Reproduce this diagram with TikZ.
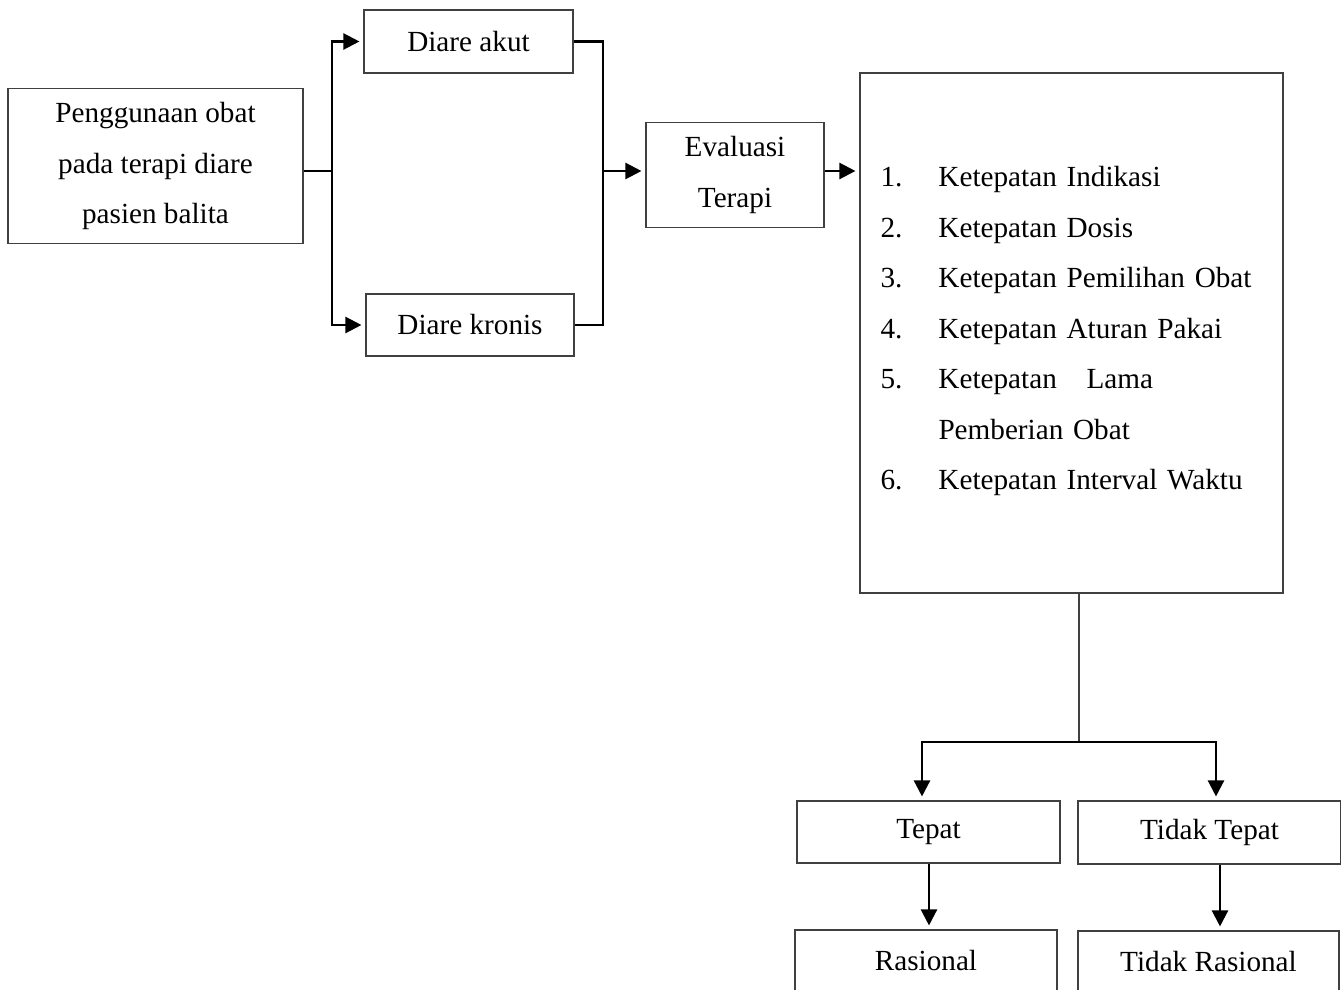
\documentclass[tikz,border=0pt]{standalone}
\usepackage{fontspec}
\setmainfont{Liberation Serif}
\usetikzlibrary{arrows.meta}
\tikzset{
  box/.style={draw=black!75, line width=0.55pt, inner sep=0pt, align=center,
    font=\fontsize{14.6}{25.25}\selectfont},
  conn/.style={line width=1.15pt},
  arr/.style={conn, -{Triangle[length=8pt,width=8pt]}, shorten >=2pt},
}

\begin{document}
\begin{tikzpicture}[x=0.5pt,y=-0.5pt]
  \useasboundingbox (0,0) rectangle (1341,990);
  % draw boxes
  \node[box, minimum width=147.5pt, minimum height=77.5pt] (obat) at (155.5,166)
    {Penggunaan obat\\pada terapi diare\\pasien balita};
  \node[box, minimum width=104.5pt, minimum height=31.5pt] (akut) at (468.5,41.5) {Diare akut};
  \node[box, minimum width=104pt, minimum height=31pt] (kronis) at (470,325) {Diare kronis};
  \node[box, minimum width=89pt, minimum height=52.5pt] (evaluasi) at (735,175) {Evaluasi\\Terapi};
  \node[box, minimum width=211.5pt, minimum height=260pt, text width=191pt, align=left] (kriteria) at (1071.5,333) {%
    \makebox[29pt][l]{1.}Ketepatan Indikasi\\
    \makebox[29pt][l]{2.}Ketepatan Dosis\\
    \makebox[29pt][l]{3.}Ketepatan Pemilihan Obat\\
    \makebox[29pt][l]{4.}Ketepatan Aturan Pakai\\
    \makebox[29pt][l]{5.}Ketepatan\hspace{10pt} Lama\\
    \hspace*{29pt}Pemberian Obat\\
    \makebox[29pt][l]{6.}Ketepatan Interval Waktu\\[-20.5pt]\mbox{}};
  \node[box, minimum width=131.5pt, minimum height=31pt] (tepat) at (928.5,832) {Tepat};
  \node[box, minimum width=131.5pt, minimum height=31.5pt] (tidaktepat) at (1209.5,832.5) {Tidak Tepat};
  \node[box, minimum width=131pt, minimum height=31pt] (rasional) at (926,961) {Rasional};
  \node[box, minimum width=130.5pt, minimum height=31pt] (tidakrasional) at (1208.5,962) {Tidak Rasional};

  % draw connectors
  \coordinate (pisah) at (332,171);
  \coordinate (gabung) at (603,171);
  \coordinate (cabang) at (1079,742);
  \draw[conn] (obat.east |- pisah) -- (pisah);
  \draw[arr] (pisah) |- (akut.west);
  \draw[arr] (pisah) |- (kronis.west);
  \draw[conn] (akut.east) -| (gabung) |- (kronis.east);
  \draw[arr] (gabung) -- (gabung -| evaluasi.west);
  \draw[arr] (evaluasi.east |- gabung) -- (gabung -| kriteria.west);
  \draw[line width=0.55pt, black!75] (kriteria.south -| cabang) -- (cabang);
  \draw[arr] (cabang) -| (tepat.north -| 922,0);
  \draw[arr] (cabang) -| (tidaktepat.north -| 1216,0);
  \draw[arr] (tepat.south -| 929,0) -- (rasional.north -| 929,0);
  \draw[arr] (tidaktepat.south -| 1220,0) -- (tidakrasional.north -| 1220,0);
\end{tikzpicture}
\end{document}
